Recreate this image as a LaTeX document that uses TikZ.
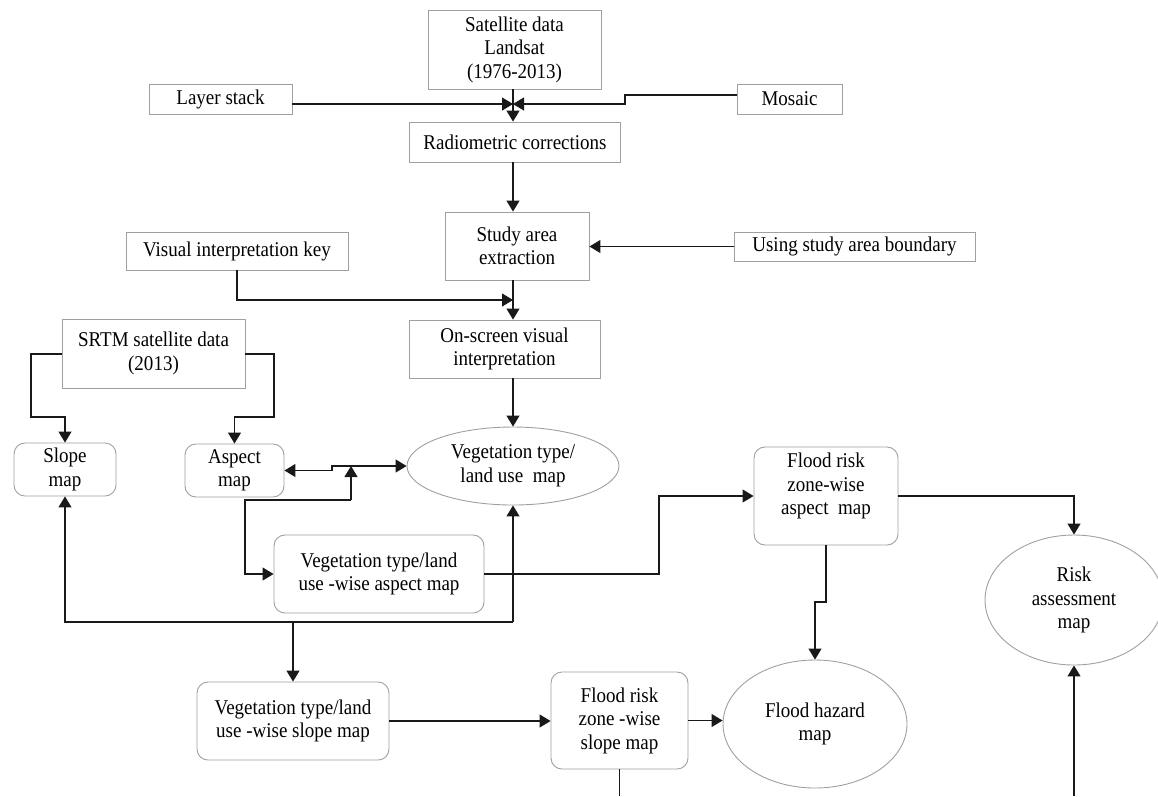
\documentclass[tikz,border=0pt]{standalone}
\usepackage{fontspec}
\setmainfont{Liberation Serif}[FakeStretch=0.905]
\usetikzlibrary{shapes.geometric,arrows.meta}
\definecolor{boxgray}{RGB}{160,160,160}
\definecolor{linecol}{RGB}{25,25,25}
\begin{document}
\begin{tikzpicture}[x=1pt,y=-1pt,
  >={Triangle[length=11pt,width=13pt]},
  txt/.style={font=\fontsize{21}{23.5}\selectfont, align=center, inner sep=0pt},
  rbx/.style={txt, draw=boxgray, line width=0.9pt, fill=white},
  rnd/.style={rbx, rounded corners=11pt},
  ell/.style={txt, ellipse, draw=boxgray, line width=0.9pt, fill=white},
  conn/.style={draw=linecol, line width=1.2pt},
  arr/.style={conn, ->}]
\fill[white] (0,0) rectangle (1158,796);
\useasboundingbox (0,0) rectangle (1158,796);

% top part
\node[rbx, minimum width=173pt, minimum height=79pt] (sat) at (514.5,49.5) {Satellite data\\Landsat\\(1976-2013)};
\node[rbx, minimum width=143pt, minimum height=30pt] (layer) at (220.5,99) {Layer stack};
\node[rbx, minimum width=105pt, minimum height=30pt] (mosaic) at (789.5,99) {Mosaic};
\node[rbx, minimum width=211pt, minimum height=40pt] (radio) at (515,142) {Radiometric corrections};
\node[rbx, minimum width=144pt, minimum height=68pt] (study) at (517,246) {Study area\\extraction};
\node[rbx, minimum width=241pt, minimum height=29pt] (usab) at (854.5,246.5) {Using study area boundary};
\node[rbx, minimum width=222pt, minimum height=38pt] (vik) at (237,251) {Visual interpretation key};
\node[rbx, minimum width=191pt, minimum height=58pt] (onscreen) at (504.5,349) {On-screen visual\\interpretation};
\node[rbx, minimum width=183pt, minimum height=69pt] (srtm) at (153.5,353.5) {SRTM satellite data\\(2013)};

% maps
\node[rnd, minimum width=102pt, minimum height=53pt] (slope) at (65,469.5) {Slope\\map};
\node[rnd, minimum width=99pt, minimum height=53pt] (aspect) at (234.5,470.5) {Aspect\\map};
\node[ell, minimum width=212pt, minimum height=78pt] (vegmap) at (513,466) {Vegetation type/\\land use\ \ map};
\node[rnd, minimum width=210pt, minimum height=78pt] (vegaspect) at (379,574) {Vegetation type/land\\use -wise aspect map};
\node[rnd, minimum width=144pt, minimum height=98pt] (fraspect) at (826,496) {};
\node[txt] (fraspecttxt) at (826,486) {Flood risk\\zone-wise\\aspect\ \ map};
\node[ell, minimum width=178pt, minimum height=130pt] (risk) at (1074,600) {Risk\\assessment\\map};
\node[rnd, minimum width=192pt, minimum height=78pt] (vegslope) at (293,721) {Vegetation type/land\\use -wise slope map};
\node[rnd, minimum width=137pt, minimum height=97pt] (frslope) at (619.5,720.5) {Flood risk\\zone -wise\\slope map};
\node[ell, minimum width=184pt, minimum height=128pt] (hazard) at (815,724) {Flood hazard\\map};

% bend coordinates
\coordinate (J) at (513,104);
\coordinate (m1) at (625,95);
\coordinate (m2) at (625,104);
\coordinate (v1) at (237,300);
\coordinate (v2) at (513,300);
\coordinate (s1) at (31,354);
\coordinate (s2) at (31,417);
\coordinate (s3) at (274,354);
\coordinate (s4) at (274,417);
\coordinate (a1) at (332,470.5);
\coordinate (a2) at (332,466);
\coordinate (u1) at (351,500);
\coordinate (u2) at (351,466);
\coordinate (u3) at (245,500);
\coordinate (u4) at (245,574);
\coordinate (w1) at (659,574);
\coordinate (w2) at (659,496);
\coordinate (h1) at (826,602);
\coordinate (h2) at (815,602);
\coordinate (b1) at (513,622);
\coordinate (b2) at (65,622);
\coordinate (b3) at (293,622);
\coordinate (fsend) at (619.5,796);
\coordinate (rend) at (1074,796);

% connectors
\draw[arr] (layer.east |- J) -- (J);
\draw[arr] (mosaic.west |- m1) -- (m1) -- (m2) -- (J);
\draw[arr] (J |- sat.south) -- (J |- radio.north);
\draw[arr] (J |- radio.south) -- (J |- study.north);
\draw[arr] (usab.west) -- (usab.west -| study.east);
\draw[arr] (J |- study.south) -- (J |- onscreen.north);
\draw[arr] (vik.south) -- (v1) -- (v2);
\draw[arr] (J |- onscreen.south) -- (vegmap.north);
\draw[arr] (srtm.west |- s1) -- (s1) -- (s2) -- (slope.north |- s2) -- (slope.north);
\draw[arr] (srtm.east |- s3) -- (s3) -- (s4) -- (aspect.north |- s4) -- (aspect.north);
\draw[conn, <->] (aspect.east |- a1) -- (a1) -- (a2) -- (vegmap.west);
\draw[arr] (u1) -- (u2);
\draw[arr] (u1) -- (u3) -- (u4) -- (vegaspect.west |- u4);
\draw[arr] (vegaspect.east |- w1) -- (w1) -- (w2) -- (fraspect.west |- w2);
\draw[arr] (fraspect.east) -- (fraspect.east -| risk.north) -- (risk.north);
\draw[arr] (fraspect.south) -- (h1) -- (h2) -- (hazard.north);
\draw[arr] (b1) -- (vegmap.south);
\draw[arr] (b1) -- (b2) -- (slope.south);
\draw[arr] (b3) -- (vegslope.north);
\draw[arr] (vegslope.east) -- (vegslope.east -| frslope.west);
\draw[arr] (frslope.east) -- (frslope.east -| hazard.west);
\draw[conn] (frslope.south) -- (fsend);
\draw[arr] (rend) -- (risk.south);
\end{tikzpicture}
\end{document}
